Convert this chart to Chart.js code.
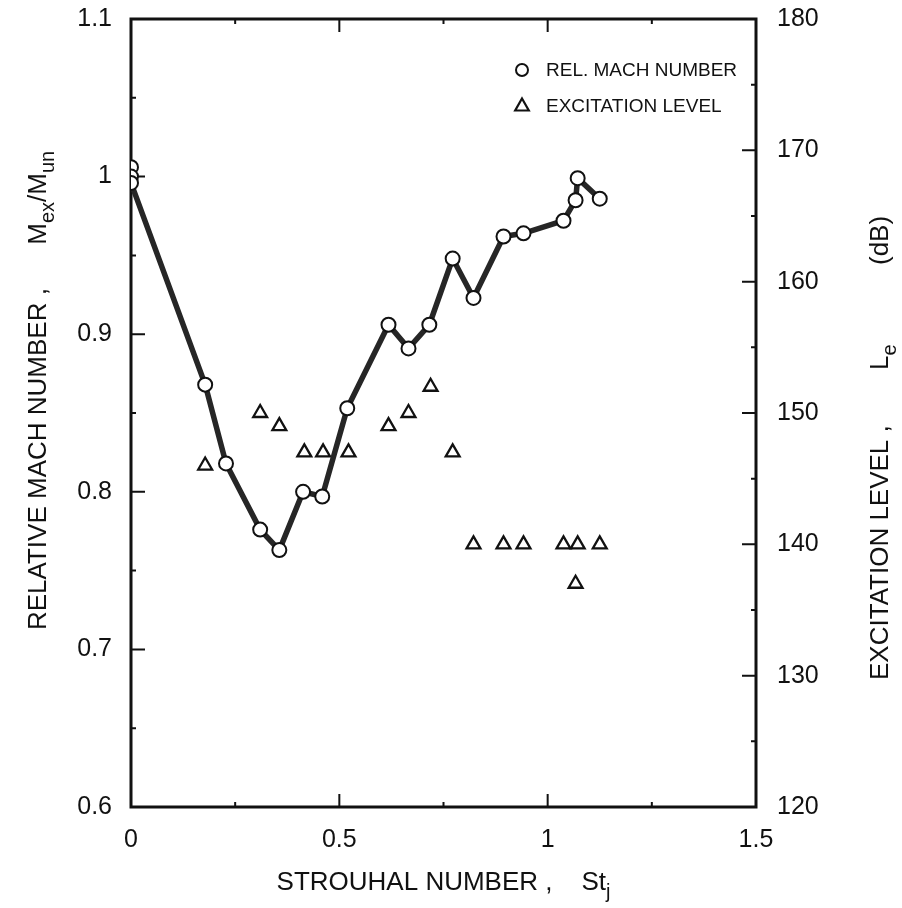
<!DOCTYPE html>
<html>
<head>
<meta charset="utf-8">
<script src="https://cdn.jsdelivr.net/npm/chart.js@4.4.1/dist/chart.umd.min.js"></script>
<style>
  html, body { margin: 0; padding: 0; background: #fff; }
  canvas { display: block; }
</style>
</head>
<body>
<canvas id="grafica" width="902" height="908"></canvas>
<script>
// Datos
const strouhalMach = [0, 0, 0, 0.178, 0.228, 0.31, 0.356, 0.413, 0.459, 0.519, 0.618, 0.666, 0.716, 0.772, 0.822, 0.894, 0.942, 1.038, 1.067, 1.072, 1.125];
const machRelativo = [1.006, 1.0, 0.996, 0.868, 0.818, 0.776, 0.763, 0.800, 0.797, 0.853, 0.906, 0.891, 0.906, 0.948, 0.923, 0.962, 0.964, 0.972, 0.985, 0.999, 0.986];

const strouhalNivel = [0.178, 0.31, 0.356, 0.416, 0.461, 0.522, 0.618, 0.666, 0.719, 0.772, 0.822, 0.894, 0.942, 1.038, 1.067, 1.072, 1.125];
const nivelExcitacion = [146, 150, 149, 147, 147, 147, 149, 150, 152, 147, 140, 140, 140, 140, 137, 140, 140];

const etiquetaMach = 'REL. MACH NUMBER';
const etiquetaNivel = 'EXCITATION LEVEL';

const fuente = '"Liberation Sans", Arial, sans-serif';

function puntos(xs, ys) {
    return xs.map((x, i) => ({ x: x, y: ys[i] }));
}

function numero(v) {
    return String(Number(v.toFixed(2)));
}

// Texto con subíndices, partes = [{t, sub}], escrito desde x (alineado a la izquierda)
function textoRico(ctx, partes, x, y, tam) {
    const fNormal = tam + 'px ' + fuente;
    const fSub = Math.round(tam * 0.75) + 'px ' + fuente;
    let cx = x;
    ctx.textAlign = 'left';
    ctx.textBaseline = 'alphabetic';
    partes.forEach(p => {
        ctx.font = p.sub ? fSub : fNormal;
        ctx.fillText(p.t, cx, y + (p.sub ? tam * 0.32 : 0));
        cx += ctx.measureText(p.t).width;
    });
    return cx - x;
}

function anchoRico(ctx, partes, tam) {
    let w = 0;
    partes.forEach(p => {
        ctx.font = (p.sub ? Math.round(tam * 0.75) : tam) + 'px ' + fuente;
        w += ctx.measureText(p.t).width;
    });
    return w;
}

const marco = {
    id: 'marco',
    beforeDatasetsDraw(chart) {
        const ctx = chart.ctx;
        const a = chart.chartArea;
        const sx = chart.scales.x, sy = chart.scales.y, sy2 = chart.scales.y2;
        ctx.save();
        ctx.strokeStyle = '#111';
        ctx.lineWidth = 3;
        ctx.strokeRect(a.left, a.top, a.right - a.left, a.bottom - a.top);
        ctx.lineWidth = 2;
        ctx.beginPath();
        // eje x: mayores cada 0.5, menores cada 0.25
        for (let v = sx.min; v <= sx.max + 1e-9; v += 0.25) {
            const px = sx.getPixelForValue(v);
            const largo = Math.abs(v / 0.5 - Math.round(v / 0.5)) < 1e-6 ? 13 : 5;
            ctx.moveTo(px, a.bottom); ctx.lineTo(px, a.bottom - largo);
            ctx.moveTo(px, a.top); ctx.lineTo(px, a.top + largo);
        }
        // eje izquierdo: mayores cada 0.1, menores cada 0.05
        for (let v = sy.min; v <= sy.max + 1e-9; v += 0.05) {
            const py = sy.getPixelForValue(v);
            const largo = Math.abs(v / 0.1 - Math.round(v / 0.1)) < 1e-6 ? 14 : 5;
            ctx.moveTo(a.left, py); ctx.lineTo(a.left + largo, py);
        }
        // eje derecho: mayores cada 10, menores cada 5
        for (let v = sy2.min; v <= sy2.max + 1e-9; v += 5) {
            const py = sy2.getPixelForValue(v);
            const largo = v % 10 === 0 ? 14 : 5;
            ctx.moveTo(a.right, py); ctx.lineTo(a.right - largo, py);
        }
        ctx.stroke();
        ctx.restore();
    },
    afterDraw(chart) {
        const ctx = chart.ctx;
        const a = chart.chartArea;
        ctx.save();
        ctx.fillStyle = '#111';

        // título eje x (centrado)
        const tituloX = [{ t: 'STROUHAL NUMBER ,    St' }, { t: 'j', sub: true }];
        const wX = anchoRico(ctx, tituloX, 26);
        textoRico(ctx, tituloX, (a.left + a.right) / 2 - wX / 2, 890, 26);

        // título eje izquierdo (de abajo hacia arriba)
        ctx.save();
        ctx.translate(46, 630);
        ctx.rotate(-Math.PI / 2);
        textoRico(ctx, [{ t: 'RELATIVE MACH NUMBER ,      M' }, { t: 'ex', sub: true }, { t: '/M' }, { t: 'un', sub: true }], 0, 0, 26);
        ctx.restore();

        // título eje derecho
        ctx.save();
        ctx.translate(888, 680);
        ctx.rotate(-Math.PI / 2);
        textoRico(ctx, [{ t: 'EXCITATION LEVEL ,' }], 0, 0, 26);
        textoRico(ctx, [{ t: 'L' }, { t: 'e', sub: true }], 680 - 370, 0, 26);
        textoRico(ctx, [{ t: '(dB)' }], 680 - 265, 0, 26);
        ctx.restore();

        // leyenda
        const lx = 522, ly1 = 70, ly2 = 106, tx = 546;
        ctx.strokeStyle = '#111';
        ctx.fillStyle = '#fff';
        ctx.lineWidth = 2;
        ctx.beginPath();
        ctx.arc(lx, ly1, 6, 0, Math.PI * 2);
        ctx.fill(); ctx.stroke();
        ctx.lineWidth = 2.2;
        ctx.beginPath();
        ctx.moveTo(lx, ly2 - 7.5);
        ctx.lineTo(lx + 6.8, ly2 + 4.5);
        ctx.lineTo(lx - 6.8, ly2 + 4.5);
        ctx.closePath();
        ctx.stroke();
        ctx.fillStyle = '#111';
        ctx.font = '19px ' + fuente;
        ctx.textAlign = 'left';
        ctx.textBaseline = 'middle';
        ctx.fillText(etiquetaMach, tx, ly1 + 1);
        ctx.fillText(etiquetaNivel, tx, ly2 + 1);
        ctx.restore();
    }
};

const ctxGrafica = document.getElementById('grafica').getContext('2d');

const grafica = new Chart(ctxGrafica, {
    type: 'scatter',
    data: {
        datasets: [
            {
                label: etiquetaMach,
                data: puntos(strouhalMach, machRelativo),
                yAxisID: 'y',
                showLine: true,
                borderColor: '#262626',
                borderWidth: 5.5,
                tension: 0,
                pointStyle: 'circle',
                pointRadius: 7,
                pointBackgroundColor: '#fff',
                pointBorderColor: '#111',
                pointBorderWidth: 2
            },
            {
                label: etiquetaNivel,
                data: puntos(strouhalNivel, nivelExcitacion),
                yAxisID: 'y2',
                showLine: false,
                pointStyle: 'triangle',
                pointRadius: 8,
                pointBackgroundColor: 'rgba(255,255,255,0)',
                pointBorderColor: '#111',
                pointBorderWidth: 2.3
            }
        ]
    },
    options: {
        responsive: false,
        animation: false,
        devicePixelRatio: 1,
        layout: { padding: { top: 19, left: 0, right: 0, bottom: 0 } },
        plugins: {
            legend: { display: false },
            tooltip: { enabled: false }
        },
        scales: {
            x: {
                type: 'linear',
                min: 0,
                max: 1.5,
                grid: { display: false, drawTicks: false },
                border: { display: false },
                ticks: {
                    stepSize: 0.5,
                    padding: 18,
                    color: '#111',
                    font: { family: fuente, size: 25 },
                    maxRotation: 0,
                    callback: numero
                },
                afterFit(scale) { scale.height = 101; }
            },
            y: {
                type: 'linear',
                position: 'left',
                min: 0.6,
                max: 1.1,
                grid: { display: false, drawTicks: false },
                border: { display: false },
                ticks: {
                    stepSize: 0.1,
                    padding: 19,
                    color: '#111',
                    font: { family: fuente, size: 25 },
                    callback: numero
                },
                afterFit(scale) {
                    scale.width = 131;
                    scale.paddingTop = 0;
                    scale.paddingBottom = 0;
                }
            },
            y2: {
                type: 'linear',
                position: 'right',
                min: 120,
                max: 180,
                grid: { display: false, drawTicks: false },
                border: { display: false },
                ticks: {
                    stepSize: 10,
                    padding: 21,
                    color: '#111',
                    font: { family: fuente, size: 25 },
                    callback: numero
                },
                afterFit(scale) {
                    scale.width = 146;
                    scale.paddingTop = 0;
                    scale.paddingBottom = 0;
                }
            }
        }
    },
    plugins: [marco]
});
</script>
</body>
</html>
